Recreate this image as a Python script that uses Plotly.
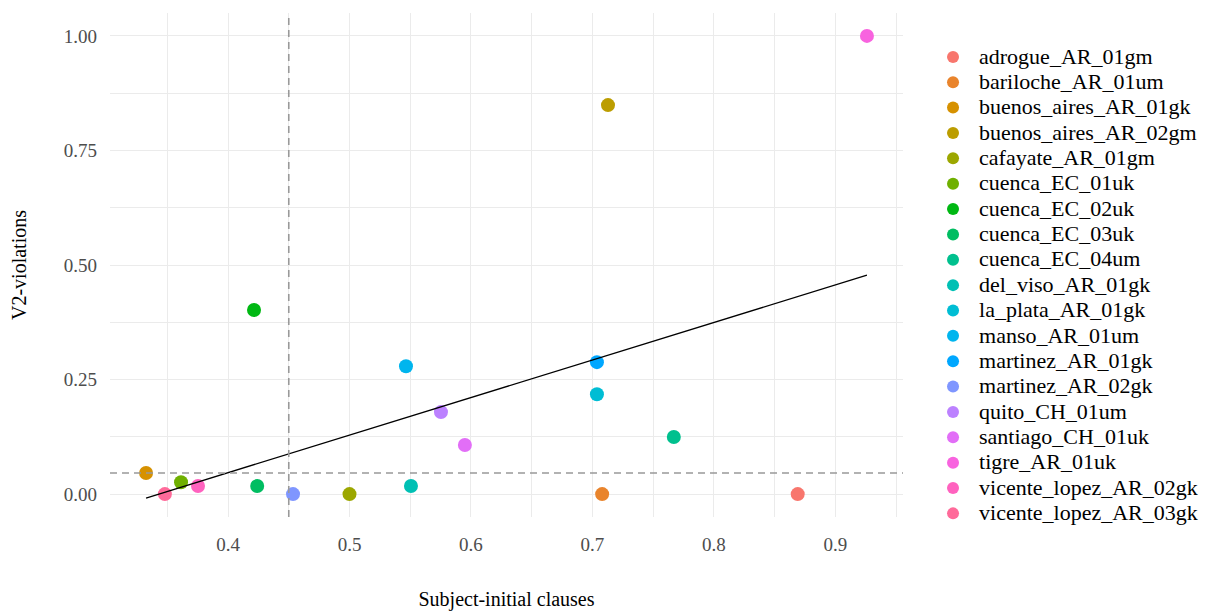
import numpy as np
import plotly.graph_objects as go

# ---- data ----
speakers = ["adrogue_AR_01gm", "bariloche_AR_01um", "buenos_aires_AR_01gk", "buenos_aires_AR_02gm",
            "cafayate_AR_01gm", "cuenca_EC_01uk", "cuenca_EC_02uk", "cuenca_EC_03uk", "cuenca_EC_04um",
            "del_viso_AR_01gk", "la_plata_AR_01gk", "manso_AR_01um", "martinez_AR_01gk", "martinez_AR_02gk",
            "quito_CH_01um", "santiago_CH_01uk", "tigre_AR_01uk", "vicente_lopez_AR_02gk", "vicente_lopez_AR_03gk"]
subject_initial = [0.869, 0.708, 0.3325, 0.7128, 0.500, 0.3613, 0.4214, 0.424, 0.767,
                   0.5506, 0.7037, 0.5465, 0.7037, 0.4535, 0.5753, 0.595, 0.926, 0.3753, 0.348]
v2_violations = [0.0, 0.0, 0.0459, 0.849, 0.0, 0.026, 0.4017, 0.0175, 0.1245,
                 0.0175, 0.218, 0.279, 0.288, 0.0, 0.179, 0.107, 1.0, 0.0175, 0.0]
vline_x = 0.45
hline_y = 0.0459
x_ticks = [0.4, 0.5, 0.6, 0.7, 0.8, 0.9]
y_ticks = [0.0, 0.25, 0.5, 0.75, 1.0]
y_tick_labels = ["0.00", "0.25", "0.50", "0.75", "1.00"]


def hcl_to_hex(h, c=100.0, l=65.0):
    h_r = np.deg2rad(h)
    u, v = c * np.cos(h_r), c * np.sin(h_r)
    Xn, Yn, Zn = 95.047, 100.0, 108.883
    un = 4 * Xn / (Xn + 15 * Yn + 3 * Zn)
    vn = 9 * Yn / (Xn + 15 * Yn + 3 * Zn)
    Y = Yn * (((l + 16) / 116) ** 3 if l > 8 else l / 903.3)
    up = u / (13 * l) + un
    vp = v / (13 * l) + vn
    X = Y * 9 * up / (4 * vp)
    Z = Y * (12 - 3 * up - 20 * vp) / (4 * vp)
    X, Y, Z = X / 100, Y / 100, Z / 100
    r = 3.240479 * X - 1.537150 * Y - 0.498535 * Z
    g = -0.969256 * X + 1.875992 * Y + 0.041556 * Z
    b = 0.055648 * X - 0.204043 * Y + 1.057311 * Z

    def gam(t):
        t = 12.92 * t if t <= 0.0031308 else 1.055 * t ** (1 / 2.4) - 0.055
        return int(round(min(max(t, 0), 1) * 255))
    return "#%02X%02X%02X" % (gam(r), gam(g), gam(b))


n = len(speakers)
colors = [hcl_to_hex(15 + 360 * i / n) for i in range(n)]

fig = go.Figure()
for name, xv, yv, col in zip(speakers, subject_initial, v2_violations, colors):
    fig.add_trace(go.Scatter(x=[xv], y=[yv], mode="markers",
                             name='<span style="font-size:22px">%s</span>' % name,
                             hovertemplate="%s<br>%%{x}, %%{y}<extra></extra>" % name,
                             marker=dict(color=col, size=14, line=dict(width=0))))

xs = np.array(subject_initial)
ys = np.array(v2_violations)
slope, intercept = np.polyfit(xs, ys, 1)
xl = np.linspace(xs.min(), xs.max(), 80)
fig.add_trace(go.Scatter(x=xl, y=slope * xl + intercept, mode="lines", showlegend=False,
                         line=dict(color="black", width=1.3)))

fig.add_shape(type="line", xref="x", yref="paper", x0=vline_x, x1=vline_x, y0=0, y1=1,
              line=dict(color="#999999", width=1.6, dash="7px,5px"), layer="above")
fig.add_shape(type="line", xref="paper", yref="y", x0=0, x1=1, y0=hline_y, y1=hline_y,
              line=dict(color="#999999", width=1.6, dash="7px,5px"), layer="above")

xr = xs.max() - xs.min()
yr = ys.max() - ys.min()
font = "Liberation Serif, Times New Roman, serif"

# page body has an 8px margin: figure is 1207x603 with plot area kept at the reference position
fig.update_layout(
    width=1207, height=603,
    margin=dict(l=102, r=312, t=5, b=94, autoexpand=False),
    paper_bgcolor="white", plot_bgcolor="white",
    font=dict(family=font, color="black"),
    showlegend=True,
    legend=dict(x=1.0303, xanchor="left", y=0.948, yanchor="top",
                font=dict(size=17.2, family=font, color="black"),
                itemsizing="constant", itemwidth=42,
                bgcolor="rgba(0,0,0,0)", tracegroupgap=0),
    xaxis=dict(range=[xs.min() - 0.05 * xr, xs.max() + 0.05 * xr],
               tickvals=x_ticks, ticktext=[str(t) for t in x_ticks],
               showgrid=True, gridcolor="#EBEBEB", gridwidth=1.4,
               minor=dict(dtick=0.05, tick0=0.35, showgrid=True, gridcolor="#EBEBEB", gridwidth=0.7),
               zeroline=False, showline=False, ticks="", automargin=False,
               ticklabelstandoff=14,
               tickfont=dict(size=19, color="#4D4D4D", family=font),
               title=dict(text="Subject-initial clauses", font=dict(size=20, color="black", family=font),
                          standoff=38)),
    yaxis=dict(range=[ys.min() - 0.05 * yr, ys.max() + 0.05 * yr],
               tickvals=y_ticks, ticktext=y_tick_labels,
               showgrid=True, gridcolor="#EBEBEB", gridwidth=1.4,
               minor=dict(dtick=0.125, tick0=0.125, showgrid=True, gridcolor="#EBEBEB", gridwidth=0.7),
               zeroline=False, showline=False, ticks="", automargin=False,
               ticklabelstandoff=12,
               tickfont=dict(size=19, color="#4D4D4D", family=font),
               title=dict(text="V2-violations", font=dict(size=20, color="black", family=font),
                          standoff=35)),
)

fig.write_html("out.html")
